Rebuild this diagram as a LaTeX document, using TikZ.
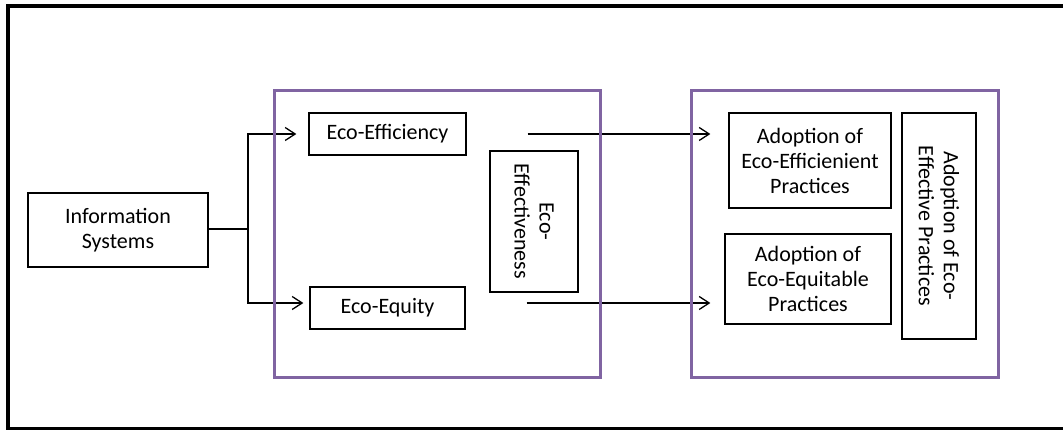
\documentclass[tikz,border=0pt]{standalone}
\usepackage{fontspec}
\setmainfont{Carlito}
\usepackage{tikz}
\usetikzlibrary{arrows.meta,positioning}
\definecolor{grouppurple}{HTML}{8064A2}

\begin{document}
\begin{tikzpicture}[x=1pt, y=1pt, on grid,
box/.style={draw, line width=1.3pt, align=center, inner sep=2pt,
  font=\fontsize{22}{25}\selectfont},
group/.style={draw=grouppurple, line width=3pt, inner sep=0pt},
link/.style={line width=1.3pt, -{Straight Barb[length=10pt, width=13pt]}}]
\useasboundingbox (0,0) rectangle (1063,430);
\draw [line width=3.5pt] (1066,424) -- (8,424) -- (8,1) -- (1066,1);
\node [box, minimum width=180pt, minimum height=74pt] (is) at (118,200) {Information\\Systems};
\node [box, minimum width=157pt, minimum height=42pt] (e_1) at (387.5,296) {Eco-Efficiency};
\node [box, minimum width=155pt, minimum height=42pt] (e_2) [below = 174pt of e_1] {Eco-Equity};
\node [box, rotate=-90, minimum width=141pt, minimum height=88pt] (e_3) at (534,208.5) {Eco-\\Effectiveness};
\node [box, minimum width=162pt, minimum height=95pt] (a_1) at (810,269.5) {Adoption of\\Eco-Efficienient\\Practices};
\node [box, minimum width=166pt, minimum height=90pt] (a_2) at (808,151) {Adoption of\\Eco-Equitable\\Practices};
\node [box, rotate=-90, minimum width=226pt, minimum height=74pt] (a_3) at (939,204) {Adoption of Eco-\\Effective Practices};
\coordinate (split) at (248,201);
\path [draw, line width=1.3pt] (is.east |- split) -- (split);
\draw [link, shorten >=12pt] (split) |- (e_1.west);
\draw [link, shorten >=6pt] (split) |- ([yshift=5pt]e_2.west);
\draw [link, shorten <=61pt, shorten >=18pt] (e_1.east) -- (e_1.east -| a_1.west);
\draw [link, shorten <=61pt, shorten >=14pt] ([yshift=5pt]e_2.east) -- ([yshift=5pt]e_2.east -| a_2.west);
\node [group, minimum width=326pt, minimum height=287pt] (g_1) at (437,195.5) {};
\node [group, minimum width=307pt, minimum height=287pt] (g_2) at (844.5,195.5) {};
\end{tikzpicture}
\end{document}
